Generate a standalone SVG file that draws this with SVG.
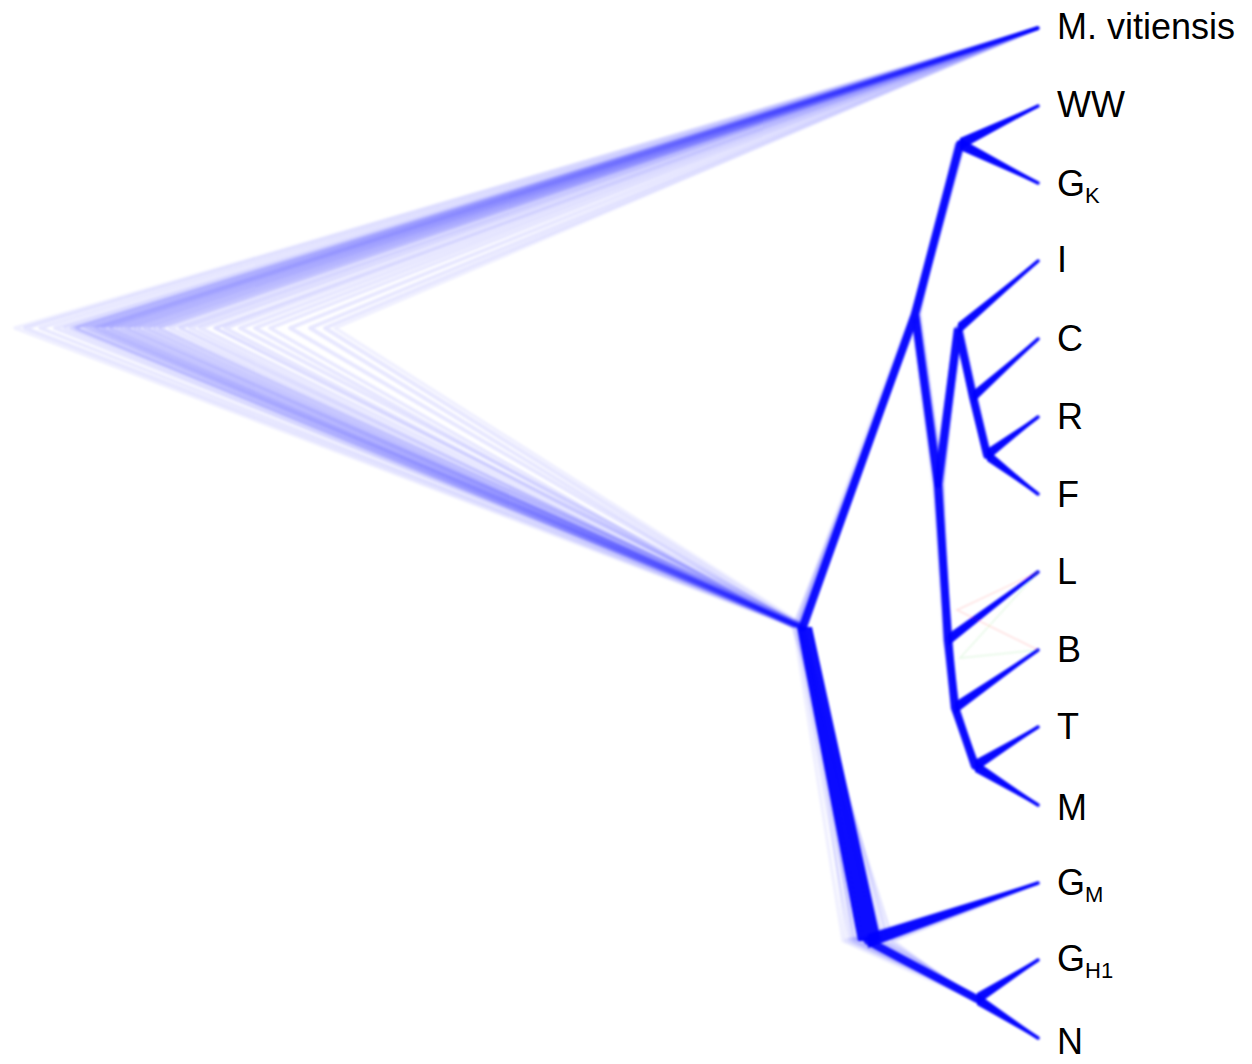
<svg xmlns="http://www.w3.org/2000/svg" width="1252" height="1064" viewBox="0 0 1252 1064">
<defs>
<filter id="soft" x="-5%" y="-5%" width="110%" height="110%"><feGaussianBlur stdDeviation="0.9"/></filter>
</defs>
<style>
.t{fill:none;stroke:#0000ff;stroke-width:3.5;stroke-opacity:0.13;stroke-linejoin:round;stroke-linecap:round}
.f1{stroke-opacity:0.06}
.f2{stroke-opacity:0.09}
.r{fill:none;stroke:#0000ff;stroke-width:4;stroke-opacity:0.095;stroke-linejoin:round}
.core{fill:none;stroke:#0000ff;stroke-width:8;stroke-linecap:round;stroke-opacity:0.9}
.w{fill:#0000ff;fill-opacity:0.95}
.lbl{font-family:"Liberation Sans",Arial,Helvetica,sans-serif;font-size:36px;fill:#000}
.sub{font-size:22px}
</style>
<rect width="1252" height="1064" fill="#fff"/>
<g id="connectors" filter="url(#soft)">
<g id="root-fans">
<path class="r" d="M1038,28 L25,328 L798,627"/>
<path class="r" d="M1038,28 L55,328 L802,627"/>
<path class="r" d="M1038,28 L65,328 L796,627"/>
<path class="r" d="M1038,28 L72,328 L804,627"/>
<path class="r" d="M1038,28 L78,328 L800,627"/>
<path class="r" d="M1038,28 L88,328 L806,627"/>
<path class="r" d="M1038,28 L92,328 L797,627"/>
<path class="r" d="M1038,28 L98,328 L803,627"/>
<path class="r" d="M1038,28 L105,328 L799,627"/>
<path class="r" d="M1038,28 L112,328 L801,627"/>
<path class="r" d="M1038,28 L122,328 L805,627"/>
<path class="r" d="M1038,28 L130,328 L795,627"/>
<path class="r" d="M1038,28 L140,328 L800,627"/>
<path class="r" d="M1038,28 L150,328 L808,627"/>
<path class="r" d="M1038,28 L155,328 L798,627"/>
<path class="r" d="M1038,28 L170,328 L802,627"/>
<path class="r" d="M1038,28 L190,328 L796,627"/>
<path class="r" d="M1038,28 L200,328 L804,627"/>
<path class="r" d="M1038,28 L225,328 L800,627"/>
<path class="r" d="M1038,28 L240,328 L807,627"/>
<path class="r" d="M1038,28 L255,328 L793,627"/>
<path class="r" d="M1038,28 L290,328 L801,627"/>
<path class="r" d="M1038,28 L310,328 L799,627"/>
<path class="r" d="M1038,28 L325,328 L803,627"/>
</g>
<g id="core">
<path class="core" stroke-width="10" d="M803,627 L915,314 L960,144 M915,314 L938,484"/>
<path class="core" d="M938,484 L958,329 L973,397 L987,455 M938,484 L948,640 L955,708 L975,766"/>
<path class="core" stroke-width="7" d="M868,941 L977,999"/>
<polygon class="w" fill-opacity="0.6" points="797,627 812,627 881,941 858,941"/>
<polygon class="w" points="960,138 1038,104.8 1038,107.2 960,150"/>
<polygon class="w" points="960,138 1038,181.8 1038,184.2 960,150"/>
<polygon class="w" points="958,323 1038,259.8 1038,262.2 958,335"/>
<polygon class="w" points="973,391 1038,337.8 1038,340.2 973,403"/>
<polygon class="w" points="987,449 1038,415.8 1038,418.2 987,461"/>
<polygon class="w" points="987,449 1038,492.8 1038,495.2 987,461"/>
<polygon class="w" points="948,634 1038,570.8 1038,573.2 948,646"/>
<polygon class="w" points="955,702 1038,648.8 1038,651.2 955,714"/>
<polygon class="w" points="975,760 1038,725.8 1038,728.2 975,772"/>
<polygon class="w" points="975,760 1038,803.8 1038,806.2 975,772"/>
<polygon class="w" points="868,934 1038,881.8 1038,884.2 868,948"/>
<polygon class="w" points="977,993 1038,958.8 1038,961.2 977,1005"/>
<polygon class="w" points="977,993 1038,1036.8 1038,1039.2 977,1005"/>
</g>
<g id="trees">
<path class="t f1" d="M1038,28 L15,328 L794,627 L911,314 L957,144 L1038,106 M957,144 L1038,183 M911,314 L933,484 L955,329 L1038,261 M955,329 L971,397 L1038,339 M971,397 L985,455 L1038,417 M985,455 L1038,494 M933,484 L944,640 L1038,572 M944,640 L952,708 L1038,650 M952,708 L972,766 L1038,727 M972,766 L1038,805 M794,627 L843,941 L1038,883 M843,941 L972,999 L1038,960 M972,999 L1038,1038"/>
<path class="t f2" d="M1038,28 L40,328 L796,627 L912,314 L962,144 L1038,106 M962,144 L1038,183 M912,314 L935,484 L960,329 L1038,261 M960,329 L974,397 L1038,339 M974,397 L988,455 L1038,417 M988,455 L1038,494 M935,484 L946,640 L1038,572 M946,640 L957,708 L1038,650 M957,708 L974,766 L1038,727 M974,766 L1038,805 M796,627 L850,941 L1038,883 M850,941 L974,999 L1038,960 M974,999 L1038,1038"/>
<path class="t" d="M1038,28 L75,328 L797,627 L913,314 L956,144 L1038,106 M956,144 L1038,183 M913,314 L935,484 L955,329 L1038,261 M955,329 L971,397 L1038,339 M971,397 L985,455 L1038,417 M985,455 L1038,494 M935,484 L945,640 L1038,572 M945,640 L952,708 L1038,650 M952,708 L979,766 L1038,727 M979,766 L1038,805 M797,627 L856,941 L1038,883 M856,941 L974,999 L1038,960 M974,999 L1038,1038"/>
<path class="t" d="M1038,28 L85,328 L798,627 L914,314 L963,144 L1038,106 M963,144 L1038,183 M914,314 L937,484 L961,329 L1038,261 M961,329 L972,397 L1038,339 M972,397 L989,455 L1038,417 M989,455 L1038,494 M937,484 L948,640 L1038,572 M948,640 L958,708 L1038,650 M958,708 L975,766 L1038,727 M975,766 L1038,805 M798,627 L860,941 L1038,883 M860,941 L977,999 L1038,960 M977,999 L1038,1038"/>
<path class="t" d="M1038,28 L95,328 L799,627 L915,314 L960,144 L1038,106 M960,144 L1038,183 M915,314 L938,484 L958,329 L1038,261 M958,329 L974,397 L1038,339 M974,397 L988,455 L1038,417 M988,455 L1038,494 M938,484 L949,640 L1038,572 M949,640 L955,708 L1038,650 M955,708 L974,766 L1038,727 M974,766 L1038,805 M799,627 L863,941 L1038,883 M863,941 L978,999 L1038,960 M978,999 L1038,1038"/>
<path class="t" d="M1038,28 L102,328 L800,627 L916,314 L958,144 L1038,106 M958,144 L1038,183 M916,314 L939,484 L956,329 L1038,261 M956,329 L973,397 L1038,339 M973,397 L986,455 L1038,417 M986,455 L1038,494 M939,484 L951,640 L1038,572 M951,640 L953,708 L1038,650 M953,708 L977,766 L1038,727 M977,766 L1038,805 M800,627 L865,941 L1038,883 M865,941 L980,999 L1038,960 M980,999 L1038,1038"/>
<path class="t" d="M1038,28 L110,328 L801,627 L917,314 L964,144 L1038,106 M964,144 L1038,183 M917,314 L941,484 L960,329 L1038,261 M960,329 L976,397 L1038,339 M976,397 L989,455 L1038,417 M989,455 L1038,494 M941,484 L947,640 L1038,572 M947,640 L958,708 L1038,650 M958,708 L975,766 L1038,727 M975,766 L1038,805 M801,627 L868,941 L1038,883 M868,941 L975,999 L1038,960 M975,999 L1038,1038"/>
<path class="t" d="M1038,28 L118,328 L802,627 L918,314 L960,144 L1038,106 M960,144 L1038,183 M918,314 L942,484 L958,329 L1038,261 M958,329 L972,397 L1038,339 M972,397 L985,455 L1038,417 M985,455 L1038,494 M942,484 L950,640 L1038,572 M950,640 L955,708 L1038,650 M955,708 L972,766 L1038,727 M972,766 L1038,805 M802,627 L871,941 L1038,883 M871,941 L977,999 L1038,960 M977,999 L1038,1038"/>
<path class="t" d="M1038,28 L126,328 L804,627 L916,314 L957,144 L1038,106 M957,144 L1038,183 M916,314 L936,484 L961,329 L1038,261 M961,329 L975,397 L1038,339 M975,397 L990,455 L1038,417 M990,455 L1038,494 M936,484 L948,640 L1038,572 M948,640 L952,708 L1038,650 M952,708 L977,766 L1038,727 M977,766 L1038,805 M804,627 L874,941 L1038,883 M874,941 L981,999 L1038,960 M981,999 L1038,1038"/>
<path class="t" d="M1038,28 L135,328 L800,627 L915,314 L962,144 L1038,106 M962,144 L1038,183 M915,314 L938,484 L955,329 L1038,261 M955,329 L973,397 L1038,339 M973,397 L987,455 L1038,417 M987,455 L1038,494 M938,484 L945,640 L1038,572 M945,640 L957,708 L1038,650 M957,708 L978,766 L1038,727 M978,766 L1038,805 M800,627 L877,941 L1038,883 M877,941 L974,999 L1038,960 M974,999 L1038,1038"/>
<path class="t" d="M1038,28 L145,328 L799,627 L913,314 L959,144 L1038,106 M959,144 L1038,183 M913,314 L940,484 L958,329 L1038,261 M958,329 L970,397 L1038,339 M970,397 L986,455 L1038,417 M986,455 L1038,494 M940,484 L950,640 L1038,572 M950,640 L955,708 L1038,650 M955,708 L973,766 L1038,727 M973,766 L1038,805 M799,627 L880,941 L1038,883 M880,941 L978,999 L1038,960 M978,999 L1038,1038"/>
<path class="t" d="M1038,28 L160,328 L803,627 L918,314 L964,144 L1038,106 M964,144 L1038,183 M918,314 L941,484 L962,329 L1038,261 M962,329 L976,397 L1038,339 M976,397 L988,455 L1038,417 M988,455 L1038,494 M941,484 L951,640 L1038,572 M951,640 L957,708 L1038,650 M957,708 L976,766 L1038,727 M976,766 L1038,805 M803,627 L883,941 L1038,883 M883,941 L979,999 L1038,960 M979,999 L1038,1038"/>
<path class="t" d="M1038,28 L180,328 L802,627 L919,314 L958,144 L1038,106 M958,144 L1038,183 M919,314 L943,484 L959,329 L1038,261 M959,329 L971,397 L1038,339 M971,397 L987,455 L1038,417 M987,455 L1038,494 M943,484 L948,640 L1038,572 M948,640 L959,708 L1038,650 M959,708 L976,766 L1038,727 M976,766 L1038,805 M802,627 L888,941 L1038,883 M888,941 L977,999 L1038,960 M977,999 L1038,1038"/>
<path class="t" d="M1038,28 L215,328 L806,627 L913,314 L963,144 L1038,106 M963,144 L1038,183 M913,314 L935,484 L956,329 L1038,261 M956,329 L974,397 L1038,339 M974,397 L986,455 L1038,417 M986,455 L1038,494 M935,484 L952,640 L1038,572 M952,640 L953,708 L1038,650 M953,708 L979,766 L1038,727 M979,766 L1038,805 M806,627 L853,941 L1038,883 M853,941 L982,999 L1038,960 M982,999 L1038,1038"/>
<path class="t f2" d="M1038,28 L270,328 L793,627 L920,314 L956,144 L1038,106 M956,144 L1038,183 M920,314 L942,484 L961,329 L1038,261 M961,329 L977,397 L1038,339 M977,397 L990,455 L1038,417 M990,455 L1038,494 M942,484 L944,640 L1038,572 M944,640 L958,708 L1038,650 M958,708 L972,766 L1038,727 M972,766 L1038,805 M793,627 L893,941 L1038,883 M893,941 L972,999 L1038,960 M972,999 L1038,1038"/>
<path class="t f1" d="M1038,28 L335,328 L807,627 L912,314 L962,144 L1038,106 M962,144 L1038,183 M912,314 L934,484 L957,329 L1038,261 M957,329 L970,397 L1038,339 M970,397 L985,455 L1038,417 M985,455 L1038,494 M934,484 L951,640 L1038,572 M951,640 L954,708 L1038,650 M954,708 L978,766 L1038,727 M978,766 L1038,805 M807,627 L846,941 L1038,883 M846,941 L981,999 L1038,960 M981,999 L1038,1038"/>
</g>
<path d="M1038,572 L957,610 L1038,650" fill="none" stroke="#ff0000" stroke-width="1.5" stroke-opacity="0.12"/>
<path d="M1038,572 L960,658 L1038,650" fill="none" stroke="#00c000" stroke-width="1.5" stroke-opacity="0.1"/>
</g>
<g id="tip-mvitiensis"><text class="lbl" x="1057" y="39">M. vitiensis</text></g>
<g id="tip-ww"><text class="lbl" x="1057" y="117">WW</text></g>
<g id="tip-gk"><text class="lbl" x="1057" y="196">G<tspan class="sub" dy="7">K</tspan></text></g>
<g id="tip-i"><text class="lbl" x="1057" y="272">I</text></g>
<g id="tip-c"><text class="lbl" x="1057" y="351">C</text></g>
<g id="tip-r"><text class="lbl" x="1057" y="429">R</text></g>
<g id="tip-f"><text class="lbl" x="1057" y="507">F</text></g>
<g id="tip-l"><text class="lbl" x="1057" y="584">L</text></g>
<g id="tip-b"><text class="lbl" x="1057" y="662">B</text></g>
<g id="tip-t"><text class="lbl" x="1057" y="739">T</text></g>
<g id="tip-m"><text class="lbl" x="1057" y="820">M</text></g>
<g id="tip-gm"><text class="lbl" x="1057" y="895">G<tspan class="sub" dy="7">M</tspan></text></g>
<g id="tip-gh1"><text class="lbl" x="1057" y="971">G<tspan class="sub" dy="7">H1</tspan></text></g>
<g id="tip-n"><text class="lbl" x="1057" y="1054">N</text></g>
</svg>
